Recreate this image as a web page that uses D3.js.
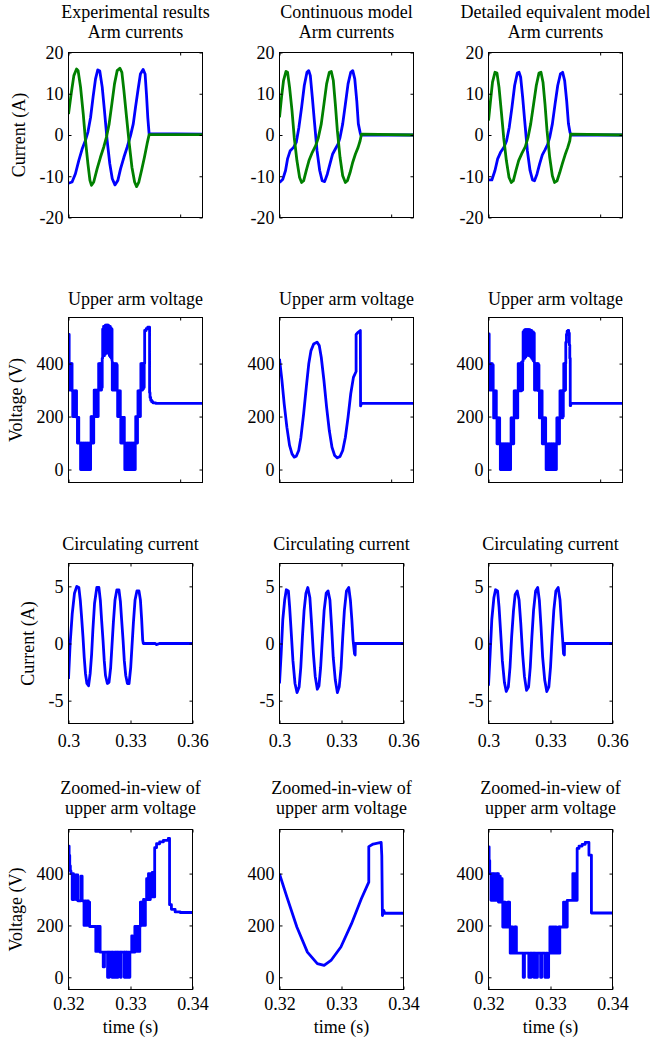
<!DOCTYPE html>
<html>
<head>
<meta charset="utf-8">
<script src="https://cdnjs.cloudflare.com/ajax/libs/d3/7.8.5/d3.min.js"></script>
<style>
  body { margin: 0; background: #fff; }
  svg text { font-family: "Liberation Serif", "Times New Roman", serif; font-size: 18px; fill: #000; }
</style>
</head>
<body>
<svg id="fig" width="650" height="1043"></svg>
<script>
// titles and tick labels
var colTitles = ["Experimental results", "Continuous model", "Detailed equivalent model"];
var armTitle = "Arm currents",
    voltTitle = "Upper arm voltage",
    circTitle = "Circulating current",
    zoomTitle = ["Zoomed-in-view of", "upper arm voltage"];
var armTicks = [-20, -10, 0, 10, 20],
    voltTicks = [0, 200, 400],
    circTicks = [-5, 0, 5],
    wideTimeTicks = [0.3, 0.35],
    timeTicks = [0.3, 0.33, 0.36],
    zoomTimeTicks = [0.32, 0.33, 0.34];

// arm currents [t (s), i (A)]
var expUpperArm = [[0.3000,-11.7],[0.3016,-11.4],[0.3031,-9.4],[0.3046,-6.2],[0.3061,-3.4],[0.3076,-1.3],[0.3087,0.7],[0.3099,4.3],[0.3110,9.2],[0.3121,13.6],[0.3131,15.8],[0.3140,15.5],[0.3151,11.6],[0.3161,5.9],[0.3173,-1.3],[0.3185,-7.0],[0.3196,-10.6],[0.3208,-12.1],[0.3221,-11.0],[0.3233,-8.2],[0.3248,-5.4],[0.3263,-2.9],[0.3278,-0.1],[0.3290,2.7],[0.3300,6.7],[0.3312,11.2],[0.3322,14.8],[0.3334,15.9],[0.3343,14.8],[0.3349,10.0],[0.3355,4.3],[0.3361,0.3],[0.3600,0.2]];
var expLowerArm = [[0.3000,5.1],[0.3012,10.0],[0.3024,14.4],[0.3036,16.0],[0.3043,15.6],[0.3054,11.6],[0.3066,5.1],[0.3076,-1.3],[0.3087,-7.0],[0.3096,-11.0],[0.3103,-12.2],[0.3113,-11.4],[0.3128,-8.2],[0.3143,-5.4],[0.3158,-2.9],[0.3170,-0.5],[0.3182,2.7],[0.3194,7.5],[0.3206,12.4],[0.3218,15.6],[0.3230,16.2],[0.3239,15.2],[0.3248,10.8],[0.3260,4.3],[0.3272,-2.1],[0.3284,-7.8],[0.3296,-11.4],[0.3305,-12.5],[0.3315,-11.4],[0.3327,-8.6],[0.3340,-5.4],[0.3352,-2.1],[0.3361,0.1],[0.3600,0.1]];
var contUpperArm = [[0.3000,-11.5],[0.3015,-10.7],[0.3027,-8.6],[0.3036,-5.8],[0.3048,-3.8],[0.3063,-3.0],[0.3075,-1.8],[0.3087,1.9],[0.3099,6.7],[0.3111,12.0],[0.3123,15.2],[0.3131,15.6],[0.3138,14.4],[0.3147,9.1],[0.3156,3.5],[0.3168,-3.8],[0.3180,-8.6],[0.3191,-11.1],[0.3202,-11.3],[0.3214,-9.5],[0.3226,-7.0],[0.3238,-4.6],[0.3250,-3.4],[0.3262,-2.2],[0.3271,-0.6],[0.3283,2.7],[0.3295,7.5],[0.3307,12.4],[0.3319,15.2],[0.3328,15.6],[0.3337,13.6],[0.3346,8.3],[0.3353,2.7],[0.3361,0.6],[0.3364,0],[0.3600,0]];
var contLowerArm = [[0.3000,4.3],[0.3009,9.1],[0.3018,13.2],[0.3029,15.4],[0.3036,15.2],[0.3045,11.6],[0.3056,5.9],[0.3066,-0.6],[0.3078,-6.2],[0.3090,-10.3],[0.3099,-11.5],[0.3108,-11.1],[0.3120,-8.6],[0.3132,-6.2],[0.3147,-4.2],[0.3162,-2.6],[0.3174,-0.6],[0.3187,2.7],[0.3199,7.5],[0.3211,12.4],[0.3223,15.2],[0.3232,15.4],[0.3241,13.2],[0.3250,7.5],[0.3259,1.1],[0.3271,-5.4],[0.3283,-9.9],[0.3295,-11.5],[0.3304,-11.1],[0.3316,-9.1],[0.3328,-6.6],[0.3340,-4.6],[0.3352,-3.0],[0.3361,-1.4],[0.3367,0.2],[0.3600,0]];
var detUpperArm = [[0.3000,-10.9],[0.3015,-10.9],[0.3029,-8.6],[0.3041,-5.8],[0.3054,-4.2],[0.3069,-3.0],[0.3081,-1.4],[0.3093,1.9],[0.3105,6.7],[0.3117,12.0],[0.3129,15.0],[0.3137,15.2],[0.3144,14.0],[0.3153,9.1],[0.3162,3.5],[0.3174,-3.8],[0.3186,-8.6],[0.3197,-10.9],[0.3206,-11.1],[0.3217,-9.5],[0.3229,-7.0],[0.3241,-4.8],[0.3253,-3.6],[0.3265,-2.3],[0.3274,-0.6],[0.3286,2.7],[0.3298,7.5],[0.3310,12.0],[0.3322,14.8],[0.3332,15.2],[0.3341,13.2],[0.3350,8.3],[0.3358,2.7],[0.3365,0.6],[0.3370,0],[0.3600,0]];
var detLowerArm = [[0.3000,3.5],[0.3009,8.3],[0.3018,12.8],[0.3029,15.2],[0.3038,15.0],[0.3047,11.6],[0.3057,5.9],[0.3068,-0.6],[0.3080,-6.2],[0.3092,-10.3],[0.3102,-11.5],[0.3111,-11.1],[0.3123,-8.6],[0.3135,-6.2],[0.3150,-4.4],[0.3165,-2.8],[0.3177,-0.6],[0.3189,2.7],[0.3202,7.5],[0.3214,12.0],[0.3226,15.0],[0.3235,15.2],[0.3244,12.8],[0.3253,7.5],[0.3262,1.1],[0.3274,-5.4],[0.3286,-9.9],[0.3296,-11.5],[0.3307,-11.1],[0.3319,-9.1],[0.3331,-6.9],[0.3343,-4.8],[0.3355,-3.0],[0.3364,-1.4],[0.3368,0.2],[0.3600,0]];

// upper arm voltage [t (s), v (V)]
var expArmVolt = [[0.3000,510],[0.3003,400],[0.3005,300],[0.3007,400],[0.3009,300],[0.3011,400],[0.3013,300],[0.3014,400],[0.3016,297],
  [0.3019,200],[0.3021,297],[0.3024,200],[0.3026,297],[0.3029,200],[0.3031,297],[0.3034,200],[0.3035,297],[0.3036,197],
  [0.3040,100],[0.3041,197],[0.3044,100],[0.3045,197],[0.3046,100],
  [0.3054,0],[0.3056,100],[0.3058,0],[0.3060,100],[0.3062,0],[0.3065,100],[0.3067,0],[0.3069,100],[0.3071,0],[0.3074,100],[0.3076,0],[0.3078,100],[0.3080,0],[0.3083,100],[0.3085,0],[0.3087,100],[0.3089,0],[0.3092,100],[0.3094,0],[0.3096,100],[0.3098,0],[0.3099,100],
  [0.3101,200],[0.3103,100],[0.3105,200],[0.3107,100],[0.3109,200],[0.3111,100],[0.3113,200],
  [0.3115,300],[0.3117,200],[0.3120,300],[0.3122,200],[0.3125,300],[0.3127,200],[0.3130,300],[0.3131,200],[0.3133,300],
  [0.3135,400],[0.3137,300],[0.3140,400],[0.3142,300],[0.3144,400],[0.3146,300],[0.3148,400],[0.3150,310],[0.3151,420],
  [0.3153,530],[0.3155,430],[0.3157,540],[0.3159,430],[0.3161,540],[0.3163,435],[0.3165,545],[0.3167,440],[0.3169,545],[0.3171,440],[0.3173,545],[0.3175,440],[0.3177,545],[0.3179,440],[0.3181,540],[0.3183,430],[0.3185,540],[0.3187,425],[0.3189,535],[0.3191,420],[0.3193,530],[0.3195,410],
  [0.3196,300],[0.3198,400],[0.3200,300],[0.3203,400],[0.3205,300],[0.3208,400],[0.3210,300],[0.3213,400],[0.3215,300],[0.3217,395],[0.3218,297],
  [0.3220,200],[0.3222,297],[0.3224,200],[0.3226,297],[0.3228,200],[0.3230,297],[0.3232,197],
  [0.3234,100],[0.3236,197],[0.3238,100],[0.3240,197],[0.3242,100],[0.3244,197],[0.3246,100],[0.3248,197],[0.3250,100],
  [0.3252,0],[0.3254,100],[0.3256,0],[0.3258,100],[0.3261,0],[0.3263,100],[0.3265,0],[0.3267,100],[0.3270,0],[0.3272,100],[0.3274,0],[0.3276,100],[0.3279,0],[0.3281,100],[0.3283,0],[0.3285,100],[0.3288,0],[0.3290,100],[0.3292,0],[0.3294,100],[0.3297,0],[0.3299,100],
  [0.3301,200],[0.3303,100],[0.3305,200],[0.3307,100],[0.3309,200],[0.3311,297],
  [0.3313,200],[0.3315,297],[0.3317,200],[0.3319,297],[0.3321,200],[0.3322,297],
  [0.3324,400],[0.3326,300],[0.3328,400],[0.3330,300],[0.3332,400],[0.3334,305],[0.3336,400],[0.3338,310],[0.3339,400],
  [0.3341,525],[0.3348,532],[0.3355,538],[0.3363,290],[0.3365,272],[0.3368,262],[0.3372,256],[0.3378,252],[0.3390,250],[0.3600,250]];
var contArmVolt = [[0.3000,418],[0.3011,336],[0.3021,248],[0.3033,160],[0.3045,91],[0.3056,59],[0.3066,47],[0.3075,50],[0.3086,72],[0.3096,122],[0.3108,210],[0.3120,311],[0.3131,399],[0.3141,449],[0.3153,474],[0.3168,481],[0.3178,468],[0.3187,424],[0.3199,336],[0.3211,235],[0.3223,147],[0.3235,84],[0.3247,53],[0.3259,44],[0.3271,49],[0.3283,72],[0.3295,122],[0.3307,198],[0.3319,286],[0.3331,348],[0.3343,370],[0.3343,510],[0.3352,518],[0.3362,525],[0.3363,240],[0.3367,250],[0.3600,250]];
var detArmVolt = [[0.3000,512],[0.3003,400],[0.3005,300],[0.3007,400],[0.3009,300],[0.3011,400],[0.3013,300],[0.3015,400],[0.3017,300],[0.3019,395],[0.3021,297],
  [0.3023,195],[0.3025,297],[0.3027,195],[0.3029,297],[0.3031,195],[0.3033,297],[0.3035,195],
  [0.3038,97],[0.3040,195],[0.3042,97],[0.3044,195],[0.3046,97],[0.3048,195],[0.3050,97],
  [0.3053,0],[0.3055,97],[0.3057,0],[0.3059,97],[0.3061,0],[0.3064,97],[0.3066,0],[0.3068,97],[0.3070,0],[0.3073,97],[0.3075,0],[0.3077,97],[0.3079,0],[0.3082,97],[0.3084,0],[0.3086,97],[0.3088,0],[0.3091,97],[0.3093,0],[0.3095,97],[0.3097,0],[0.3099,97],
  [0.3101,195],[0.3103,97],[0.3105,195],[0.3107,97],[0.3109,195],[0.3111,97],[0.3113,195],
  [0.3115,297],[0.3117,195],[0.3119,297],[0.3121,195],[0.3123,297],[0.3125,195],[0.3127,297],[0.3129,195],[0.3131,297],
  [0.3133,400],[0.3135,297],[0.3138,400],[0.3140,297],[0.3143,400],[0.3145,297],[0.3148,405],[0.3150,300],[0.3153,410],
  [0.3155,520],[0.3157,420],[0.3159,525],[0.3161,420],[0.3163,528],[0.3165,425],[0.3167,528],[0.3169,430],[0.3171,528],[0.3173,435],[0.3175,528],[0.3177,435],[0.3179,528],[0.3181,430],[0.3183,528],[0.3185,430],[0.3187,525],[0.3189,425],[0.3191,525],[0.3193,420],[0.3195,520],[0.3197,415],[0.3199,520],[0.3201,410],[0.3203,515],[0.3205,405],
  [0.3206,300],[0.3208,400],[0.3210,300],[0.3212,400],[0.3215,300],[0.3217,400],[0.3219,300],[0.3221,400],[0.3223,297],[0.3225,395],[0.3226,297],
  [0.3228,195],[0.3230,297],[0.3232,195],[0.3234,297],[0.3236,195],[0.3238,297],[0.3240,195],
  [0.3241,97],[0.3243,195],[0.3245,97],[0.3247,195],[0.3249,97],[0.3251,195],[0.3253,97],[0.3255,195],[0.3256,97],
  [0.3258,0],[0.3260,97],[0.3262,0],[0.3264,97],[0.3266,0],[0.3269,97],[0.3271,0],[0.3273,97],[0.3275,0],[0.3278,97],[0.3280,0],[0.3282,97],[0.3284,0],[0.3287,97],[0.3289,0],[0.3291,97],[0.3293,0],[0.3296,97],[0.3298,0],[0.3300,97],[0.3302,0],[0.3304,97],
  [0.3306,195],[0.3308,97],[0.3310,195],[0.3312,97],[0.3314,195],[0.3316,97],[0.3318,195],
  [0.3320,297],[0.3322,195],[0.3324,297],[0.3326,195],[0.3328,297],[0.3330,195],[0.3332,297],[0.3334,200],[0.3335,297],
  [0.3337,400],[0.3339,297],[0.3341,400],[0.3343,300],[0.3345,400],
  [0.3346,480],[0.3349,510],[0.3352,522],[0.3356,525],[0.3359,515],[0.3362,470],[0.3364,420],[0.3366,241],[0.3368,250],[0.3600,250]];

// circulating current [t (s), i (A)]
var expCirc = [[0.3000,-3.1],[0.3008,0.0],[0.3018,2.6],[0.3029,4.4],[0.3040,5.0],[0.3050,4.9],[0.3057,3.8],[0.3063,2.4],[0.3070,0.6],[0.3076,-1.2],[0.3082,-2.6],[0.3089,-3.5],[0.3097,-3.7],[0.3105,-2.6],[0.3112,-0.9],[0.3118,1.2],[0.3126,3.5],[0.3137,4.9],[0.3147,4.9],[0.3154,3.8],[0.3160,2.1],[0.3167,0.3],[0.3173,-1.5],[0.3179,-2.8],[0.3188,-3.5],[0.3196,-3.4],[0.3204,-2.1],[0.3210,-0.3],[0.3217,1.8],[0.3225,3.8],[0.3234,4.7],[0.3244,4.7],[0.3251,3.7],[0.3257,2.1],[0.3264,0.3],[0.3270,-1.5],[0.3277,-2.8],[0.3285,-3.5],[0.3293,-3.5],[0.3301,-2.1],[0.3307,-0.3],[0.3314,1.8],[0.3322,3.8],[0.3331,4.6],[0.3341,4.6],[0.3348,3.8],[0.3354,2.1],[0.3359,0.3],[0.3362,0.0],[0.3420,0.0],[0.3425,-0.1],[0.3440,0.0],[0.3600,0.0]];
var contCirc = [[0.3000,-3.5],[0.3008,-0.9],[0.3016,2.1],[0.3025,3.8],[0.3033,4.7],[0.3043,4.6],[0.3049,3.2],[0.3057,0.9],[0.3065,-1.5],[0.3075,-3.5],[0.3085,-4.3],[0.3095,-3.8],[0.3103,-2.1],[0.3111,0.6],[0.3119,2.9],[0.3128,4.4],[0.3137,4.9],[0.3147,4.0],[0.3155,1.8],[0.3164,-0.9],[0.3173,-2.9],[0.3183,-4.0],[0.3191,-3.7],[0.3199,-2.1],[0.3208,0.6],[0.3216,2.9],[0.3226,4.4],[0.3235,4.6],[0.3244,3.8],[0.3252,1.5],[0.3260,-1.2],[0.3270,-3.2],[0.3280,-4.3],[0.3289,-3.8],[0.3298,-2.1],[0.3306,0.6],[0.3314,2.9],[0.3324,4.6],[0.3335,4.9],[0.3343,3.8],[0.3350,2.1],[0.3356,0.3],[0.3363,-0.9],[0.3366,-1.0],[0.3367,0.0],[0.3600,0.0]];
var detCirc = [[0.3000,-3.7],[0.3008,-0.9],[0.3016,2.1],[0.3026,4.0],[0.3034,4.7],[0.3044,4.6],[0.3051,3.2],[0.3059,0.9],[0.3067,-1.5],[0.3077,-3.4],[0.3086,-4.2],[0.3096,-3.8],[0.3104,-2.1],[0.3112,0.6],[0.3121,2.9],[0.3129,4.3],[0.3139,4.6],[0.3148,3.8],[0.3156,1.8],[0.3165,-0.9],[0.3174,-2.9],[0.3184,-4.1],[0.3194,-3.8],[0.3202,-2.1],[0.3210,0.6],[0.3218,2.9],[0.3228,4.6],[0.3238,4.9],[0.3246,3.8],[0.3254,1.5],[0.3262,-1.2],[0.3272,-3.2],[0.3282,-4.2],[0.3292,-3.8],[0.3300,-2.1],[0.3308,0.6],[0.3316,2.9],[0.3326,4.6],[0.3337,4.9],[0.3346,3.8],[0.3352,2.1],[0.3359,0.3],[0.3363,-0.9],[0.3367,-1.0],[0.3368,0.0],[0.3600,0.0]];

// zoomed upper arm voltage [t (s), v (V)]
var expZoomVolt = [[0.3200,506],[0.3201,470],[0.3202,430],[0.3203,410],[0.3204,400],[0.3206,300],[0.3207,400],[0.3208,300],[0.3209,395],[0.3212,300],[0.3213,395],[0.3215,295],[0.3220,390],[0.3222,295],
  [0.3225,200],[0.3227,295],[0.3228,200],[0.3230,295],[0.3232,200],[0.3233,290],[0.3234,196],
  [0.3244,100],[0.3246,196],[0.3248,100],[0.3249,196],[0.3251,97],
  [0.3256,40],[0.3258,97],[0.3263,0],[0.3264,97],[0.3265,0],[0.3266,97],[0.3270,0],[0.3271,97],[0.3272,0],[0.3274,97],[0.3276,0],[0.3277,97],[0.3279,0],[0.3280,97],[0.3284,0],[0.3285,97],[0.3290,0],[0.3291,97],[0.3293,0],[0.3294,97],[0.3297,0],[0.3299,97],
  [0.3302,160],[0.3303,97],[0.3307,196],[0.3308,100],[0.3310,196],[0.3311,100],[0.3313,196],[0.3314,100],[0.3315,196],
  [0.3316,290],[0.3317,200],[0.3318,290],[0.3320,200],[0.3321,300],[0.3322,200],[0.3324,300],
  [0.3326,380],[0.3327,300],[0.3329,400],[0.3330,300],[0.3332,400],[0.3333,310],[0.3335,405],[0.3336,310],
  [0.3339,500],[0.3342,515],[0.3347,522],[0.3353,528],[0.3361,536],[0.3363,280],[0.3366,262],[0.3372,252],[0.3380,250],[0.3400,248]];
var contZoomVolt = [[0.3200,399],[0.3212,309],[0.3228,194],[0.3245,97],[0.3261,53],[0.3272,46],[0.3283,65],[0.3299,117],[0.3316,206],[0.3332,303],[0.3344,367],[0.3344,504],[0.3351,514],[0.3364,520],[0.3365,469],[0.3366,238],[0.3368,258],[0.3370,247],[0.3400,247]];
var detZoomVolt = [[0.3200,503],[0.3201,450],[0.3202,400],
  [0.3204,297],[0.3205,400],[0.3207,297],[0.3208,400],[0.3210,297],[0.3212,400],[0.3214,297],[0.3215,400],
  [0.3216,290],[0.3218,390],[0.3219,290],[0.3221,380],[0.3222,290],
  [0.3223,194],[0.3224,290],[0.3225,194],[0.3226,290],[0.3227,194],
  [0.3231,290],[0.3232,194],[0.3233,290],[0.3234,194],
  [0.3235,93],[0.3236,194],[0.3237,93],[0.3238,194],[0.3239,93],[0.3242,194],[0.3243,93],[0.3244,194],[0.3245,93],
  [0.3256,0],[0.3258,93],[0.3265,0],[0.3267,93],[0.3268,0],[0.3269,93],[0.3273,0],[0.3274,93],[0.3277,0],[0.3279,93],[0.3284,0],[0.3286,93],[0.3291,0],[0.3293,93],[0.3295,0],[0.3297,93],
  [0.3299,194],[0.3300,93],[0.3302,194],[0.3303,93],[0.3305,194],[0.3306,93],[0.3308,194],[0.3309,93],[0.3313,194],[0.3314,93],[0.3315,194],
  [0.3321,290],[0.3322,194],[0.3324,290],[0.3325,194],[0.3327,297],
  [0.3336,400],[0.3337,297],[0.3339,400],[0.3340,297],[0.3341,400],[0.3342,297],
  [0.3343,497],[0.3346,506],[0.3351,513],[0.3356,520],[0.3362,471],[0.3366,248],[0.3400,248]];

var lineColors = ["#0000ff", "#008000"];

var svg = d3.select("#fig");
var colX = [68.5, 279.5, 488.5];

var rows = [
  { key: "arm", top: 52.5, bottom: 217.5, width: 134, xDomain: [0.3, 0.36], xTicks: wideTimeTicks, xLabels: false,
    yDomain: [-20, 20], yTicks: armTicks, yLabel: "Current (A)", yLabelX: 25, titleY: [18, 38],
    title: function (c) { return [colTitles[c], armTitle]; },
    series: [[expUpperArm, expLowerArm], [contUpperArm, contLowerArm], [detUpperArm, detLowerArm]],
    stepped: [false, false, false] },
  { key: "volt", top: 317.5, bottom: 482.5, width: 134, xDomain: [0.3, 0.36], xTicks: wideTimeTicks, xLabels: false,
    yDomain: [-49, 574], yTicks: voltTicks, yLabel: "Voltage (V)", yLabelX: 21.5, titleY: [305],
    title: function () { return [voltTitle]; },
    series: [[expArmVolt], [contArmVolt], [detArmVolt]],
    stepped: [true, false, true] },
  { key: "circ", top: 563.5, bottom: 723.5, width: 124, xDomain: [0.3, 0.36], xTicks: timeTicks, xLabels: true, xPad: 11,
    yDomain: [-7, 7], yTicks: circTicks, yLabel: "Current (A)", yLabelX: 33.5, titleY: [550],
    title: function () { return [circTitle]; },
    series: [[expCirc], [contCirc], [detCirc]],
    stepped: [false, false, false] },
  { key: "zoom", top: 829.5, bottom: 989.5, width: 124, xDomain: [0.32, 0.34], xTicks: zoomTimeTicks, xLabels: true, xPad: 8,
    yDomain: [-47, 570], yTicks: voltTicks, yLabel: "Voltage (V)", yLabelX: 22, titleY: [794, 814],
    title: function () { return zoomTitle; },
    series: [[expZoomVolt], [contZoomVolt], [detZoomVolt]],
    stepped: [true, false, true], xTitle: "time (s)", xTitleY: 1033 }
];

function _fmt(d) { return String(d); }

function _drawPanel(row, col) {
  var w = row.width,
      h = row.bottom - row.top,
      g = svg.append("g").attr("transform", "translate(" + colX[col] + "," + row.top + ")");

  var x = d3.scaleLinear().domain(row.xDomain).range([0, w]),
      y = d3.scaleLinear().domain(row.yDomain).range([h, 0]);

  var clipId = "clip-" + row.key + "-" + col;
  g.append("clipPath").attr("id", clipId)
   .append("rect").attr("width", w).attr("height", h);

  var line = d3.line()
               .x(function (d) { return x(d[0]); })
               .y(function (d) { return y(d[1]); })
               .curve(row.stepped[col] ? d3.curveStepAfter : d3.curveLinear);

  g.append("g").attr("clip-path", "url(#" + clipId + ")")
   .selectAll("path").data(row.series[col]).enter()
   .append("path")
   .attr("d", line)
   .attr("fill", "none")
   .attr("stroke", function (d, i) { return lineColors[i]; })
   .attr("stroke-width", 2.8)
   .attr("stroke-linejoin", "round");

  g.append("g").call(d3.axisLeft(y).tickValues(row.yTicks).tickSize(-3).tickPadding(5).tickFormat(_fmt));
  g.append("g").attr("transform", "translate(" + w + ",0)")
   .call(d3.axisRight(y).tickValues(row.yTicks).tickSize(-3).tickFormat(""));
  g.append("g").attr("transform", "translate(0," + h + ")")
   .call(d3.axisBottom(x).tickValues(row.xTicks).tickSize(-3).tickPadding(row.xPad || 8)
           .tickFormat(row.xLabels ? _fmt : ""));
  g.append("g").call(d3.axisTop(x).tickValues(row.xTicks).tickSize(-3).tickFormat(""));
  g.selectAll(".domain").remove();
  g.selectAll(".tick line").attr("stroke", "#000");

  g.append("rect")
   .attr("width", w).attr("height", h)
   .attr("fill", "none").attr("stroke", "#000").attr("stroke-width", 1);

  var lines = row.title(col);
  lines.forEach(function (t, i) {
    svg.append("text")
       .attr("x", colX[col] + w / 2)
       .attr("y", row.titleY[i])
       .attr("text-anchor", "middle")
       .text(t);
  });

  if (col === 0) {
    svg.append("text")
       .attr("transform", "translate(" + row.yLabelX + "," + (row.top + h / 2) + ") rotate(-90)")
       .attr("text-anchor", "middle")
       .text(row.yLabel);
  }
  if (row.xTitle) {
    svg.append("text")
       .attr("x", colX[col] + w / 2)
       .attr("y", row.xTitleY)
       .attr("text-anchor", "middle")
       .text(row.xTitle);
  }
}

rows.forEach(function (row) {
  [0, 1, 2].forEach(function (c) { _drawPanel(row, c); });
});
</script>
</body>
</html>
